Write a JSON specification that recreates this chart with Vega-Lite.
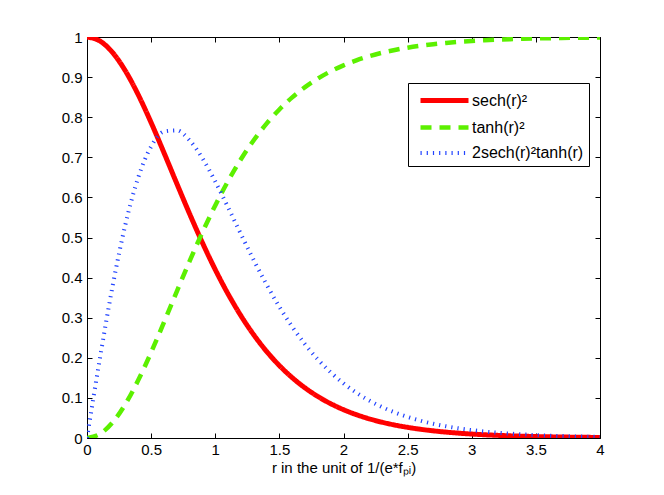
{
  "$schema": "https://vega.github.io/schema/vega-lite/v6.json",
  "autosize": "none",
  "padding": {"left": 87, "top": 37, "right": 64, "bottom": 57},
  "width": 513,
  "height": 401,
  "background": "white",
  "config": {
    "font": "Liberation Sans",
    "view": {"stroke": "black", "strokeWidth": 1},
    "axis": {"grid": false, "domain": false, "tickColor": "black", "tickSize": 5, "labelFlush": false, "labelColor": "black", "labelFontSize": 15, "titleFontSize": 15, "titleFontWeight": "normal", "titleColor": "black", "labelFont": "Liberation Sans", "titleFont": "Liberation Sans"}
  },
  "data": {"values": [
    {"r":0,"f":"sech(r)²","v":1},{"r":0.1,"f":"sech(r)²","v":0.99007},{"r":0.2,"f":"sech(r)²","v":0.96104},{"r":0.3,"f":"sech(r)²","v":0.91514},{"r":0.4,"f":"sech(r)²","v":0.85564},{"r":0.5,"f":"sech(r)²","v":0.78645},{"r":0.6,"f":"sech(r)²","v":0.71158},{"r":0.7,"f":"sech(r)²","v":0.63474},{"r":0.8,"f":"sech(r)²","v":0.55905},{"r":0.9,"f":"sech(r)²","v":0.48691},{"r":1.0,"f":"sech(r)²","v":0.41998},{"r":1.1,"f":"sech(r)²","v":0.3592},{"r":1.2,"f":"sech(r)²","v":0.30503},{"r":1.3,"f":"sech(r)²","v":0.25744},{"r":1.4,"f":"sech(r)²","v":0.21616},{"r":1.5,"f":"sech(r)²","v":0.1807},{"r":1.6,"f":"sech(r)²","v":0.15052},{"r":1.7,"f":"sech(r)²","v":0.12501},{"r":1.8,"f":"sech(r)²","v":0.10355},{"r":1.9,"f":"sech(r)²","v":0.08561},{"r":2.0,"f":"sech(r)²","v":0.07065},{"r":2.1,"f":"sech(r)²","v":0.05823},{"r":2.2,"f":"sech(r)²","v":0.04793},{"r":2.3,"f":"sech(r)²","v":0.0394},{"r":2.4,"f":"sech(r)²","v":0.03239},{"r":2.5,"f":"sech(r)²","v":0.0266},{"r":2.6,"f":"sech(r)²","v":0.02182},{"r":2.7,"f":"sech(r)²","v":0.0179},{"r":2.8,"f":"sech(r)²","v":0.01469},{"r":2.9,"f":"sech(r)²","v":0.01204},{"r":3.0,"f":"sech(r)²","v":0.00987},{"r":3.1,"f":"sech(r)²","v":0.00808},{"r":3.2,"f":"sech(r)²","v":0.00663},{"r":3.3,"f":"sech(r)²","v":0.00543},{"r":3.4,"f":"sech(r)²","v":0.00445},{"r":3.5,"f":"sech(r)²","v":0.00364},{"r":3.6,"f":"sech(r)²","v":0.00298},{"r":3.7,"f":"sech(r)²","v":0.00244},{"r":3.8,"f":"sech(r)²","v":0.002},{"r":3.9,"f":"sech(r)²","v":0.00164},{"r":4.0,"f":"sech(r)²","v":0.00134},
    {"r":0,"f":"tanh(r)²","v":0},{"r":0.1,"f":"tanh(r)²","v":0.00993},{"r":0.2,"f":"tanh(r)²","v":0.03896},{"r":0.3,"f":"tanh(r)²","v":0.08486},{"r":0.4,"f":"tanh(r)²","v":0.14436},{"r":0.5,"f":"tanh(r)²","v":0.21355},{"r":0.6,"f":"tanh(r)²","v":0.28842},{"r":0.7,"f":"tanh(r)²","v":0.36526},{"r":0.8,"f":"tanh(r)²","v":0.44095},{"r":0.9,"f":"tanh(r)²","v":0.51309},{"r":1.0,"f":"tanh(r)²","v":0.58002},{"r":1.1,"f":"tanh(r)²","v":0.6408},{"r":1.2,"f":"tanh(r)²","v":0.69497},{"r":1.3,"f":"tanh(r)²","v":0.74256},{"r":1.4,"f":"tanh(r)²","v":0.78384},{"r":1.5,"f":"tanh(r)²","v":0.8193},{"r":1.6,"f":"tanh(r)²","v":0.84948},{"r":1.7,"f":"tanh(r)²","v":0.87499},{"r":1.8,"f":"tanh(r)²","v":0.89645},{"r":1.9,"f":"tanh(r)²","v":0.91439},{"r":2.0,"f":"tanh(r)²","v":0.92935},{"r":2.1,"f":"tanh(r)²","v":0.94177},{"r":2.2,"f":"tanh(r)²","v":0.95207},{"r":2.3,"f":"tanh(r)²","v":0.9606},{"r":2.4,"f":"tanh(r)²","v":0.96761},{"r":2.5,"f":"tanh(r)²","v":0.9734},{"r":2.6,"f":"tanh(r)²","v":0.97818},{"r":2.7,"f":"tanh(r)²","v":0.9821},{"r":2.8,"f":"tanh(r)²","v":0.98531},{"r":2.9,"f":"tanh(r)²","v":0.98796},{"r":3.0,"f":"tanh(r)²","v":0.99013},{"r":3.1,"f":"tanh(r)²","v":0.99192},{"r":3.2,"f":"tanh(r)²","v":0.99337},{"r":3.3,"f":"tanh(r)²","v":0.99457},{"r":3.4,"f":"tanh(r)²","v":0.99555},{"r":3.5,"f":"tanh(r)²","v":0.99636},{"r":3.6,"f":"tanh(r)²","v":0.99702},{"r":3.7,"f":"tanh(r)²","v":0.99756},{"r":3.8,"f":"tanh(r)²","v":0.998},{"r":3.9,"f":"tanh(r)²","v":0.99836},{"r":4.0,"f":"tanh(r)²","v":0.99866},
    {"r":0,"f":"2sech(r)²tanh(r)","v":0},{"r":0.1,"f":"2sech(r)²tanh(r)","v":0.19736},{"r":0.2,"f":"2sech(r)²tanh(r)","v":0.37938},{"r":0.3,"f":"2sech(r)²tanh(r)","v":0.53318},{"r":0.4,"f":"2sech(r)²tanh(r)","v":0.6502},{"r":0.5,"f":"2sech(r)²tanh(r)","v":0.72688},{"r":0.6,"f":"2sech(r)²tanh(r)","v":0.76431},{"r":0.7,"f":"2sech(r)²tanh(r)","v":0.76724},{"r":0.8,"f":"2sech(r)²tanh(r)","v":0.74246},{"r":0.9,"f":"2sech(r)²tanh(r)","v":0.69755},{"r":1.0,"f":"2sech(r)²tanh(r)","v":0.63971},{"r":1.1,"f":"2sech(r)²tanh(r)","v":0.57508},{"r":1.2,"f":"2sech(r)²tanh(r)","v":0.50858},{"r":1.3,"f":"2sech(r)²tanh(r)","v":0.44368},{"r":1.4,"f":"2sech(r)²tanh(r)","v":0.38275},{"r":1.5,"f":"2sech(r)²tanh(r)","v":0.32712},{"r":1.6,"f":"2sech(r)²tanh(r)","v":0.27746},{"r":1.7,"f":"2sech(r)²tanh(r)","v":0.23387},{"r":1.8,"f":"2sech(r)²tanh(r)","v":0.19608},{"r":1.9,"f":"2sech(r)²tanh(r)","v":0.16373},{"r":2.0,"f":"2sech(r)²tanh(r)","v":0.13622},{"r":2.1,"f":"2sech(r)²tanh(r)","v":0.11302},{"r":2.2,"f":"2sech(r)²tanh(r)","v":0.09353},{"r":2.3,"f":"2sech(r)²tanh(r)","v":0.07723},{"r":2.4,"f":"2sech(r)²tanh(r)","v":0.06372},{"r":2.5,"f":"2sech(r)²tanh(r)","v":0.05249},{"r":2.6,"f":"2sech(r)²tanh(r)","v":0.04316},{"r":2.7,"f":"2sech(r)²tanh(r)","v":0.03548},{"r":2.8,"f":"2sech(r)²tanh(r)","v":0.02916},{"r":2.9,"f":"2sech(r)²tanh(r)","v":0.02393},{"r":3.0,"f":"2sech(r)²tanh(r)","v":0.01964},{"r":3.1,"f":"2sech(r)²tanh(r)","v":0.01609},{"r":3.2,"f":"2sech(r)²tanh(r)","v":0.01322},{"r":3.3,"f":"2sech(r)²tanh(r)","v":0.01083},{"r":3.4,"f":"2sech(r)²tanh(r)","v":0.00888},{"r":3.5,"f":"2sech(r)²tanh(r)","v":0.00727},{"r":3.6,"f":"2sech(r)²tanh(r)","v":0.00595},{"r":3.7,"f":"2sech(r)²tanh(r)","v":0.00488},{"r":3.8,"f":"2sech(r)²tanh(r)","v":0.004},{"r":3.9,"f":"2sech(r)²tanh(r)","v":0.00328},{"r":4.0,"f":"2sech(r)²tanh(r)","v":0.00268}
  ]},
  "layer": [
    {
      "mark": {"type": "line", "interpolate": "monotone", "clip": true, "strokeCap": "butt"},
      "encoding": {
        "x": {"field": "r", "type": "quantitative", "scale": {"domain": [0, 4], "nice": false, "zero": false},
          "axis": {"orient": "bottom", "values": [0,0.5,1,1.5,2,2.5,3,3.5,4], "format": "~g", "tickSize": -5, "labelPadding": 9, "title": "r in the unit of 1/(e*fₚᵢ)", "titlePadding": 3}},
        "y": {"field": "v", "type": "quantitative", "scale": {"domain": [0, 1], "nice": false},
          "axis": {"orient": "left", "values": [0,0.1,0.2,0.3,0.4,0.5,0.6,0.7,0.8,0.9,1], "format": "~g", "tickSize": -5, "labelPadding": 10, "title": null}},
        "color": {"field": "f", "type": "nominal", "scale": {"domain": ["sech(r)²", "tanh(r)²", "2sech(r)²tanh(r)"], "range": ["#ff0000", "#5cf000", "#2244ff"]},
          "legend": {"title": null, "orient": "none", "legendX": 321, "legendY": 46, "symbolType": "M-0.5,0H4.3", "symbolSize": 400, "labelFontSize": 16, "labelColor": "black", "strokeColor": "black", "fillColor": "white", "padding": 5, "rowPadding": 4, "labelOffset": 34, "cornerRadius": 0, "labelFont": "Liberation Sans"}},
        "strokeDash": {"field": "f", "type": "nominal", "scale": {"domain": ["sech(r)²", "tanh(r)²", "2sech(r)²tanh(r)"], "range": [[1, 0], [11, 8], [1.2, 5]]}},
        "strokeWidth": {"field": "f", "type": "nominal", "scale": {"domain": ["sech(r)²", "tanh(r)²", "2sech(r)²tanh(r)"], "range": [5, 4, 2]}},
        "order": {"field": "r"}
      }
    },
    {
      "mark": {"type": "line", "opacity": 0},
      "encoding": {
        "x": {"field": "r", "type": "quantitative", "axis": {"orient": "top", "values": [0,0.5,1,1.5,2,2.5,3,3.5,4], "labels": false, "tickSize": -5, "title": null}},
        "y": {"field": "v", "type": "quantitative", "axis": {"orient": "right", "values": [0,0.1,0.2,0.3,0.4,0.5,0.6,0.7,0.8,0.9,1], "labels": false, "tickSize": -5, "title": null}},
        "detail": {"field": "f"}
      }
    }
  ]
}
